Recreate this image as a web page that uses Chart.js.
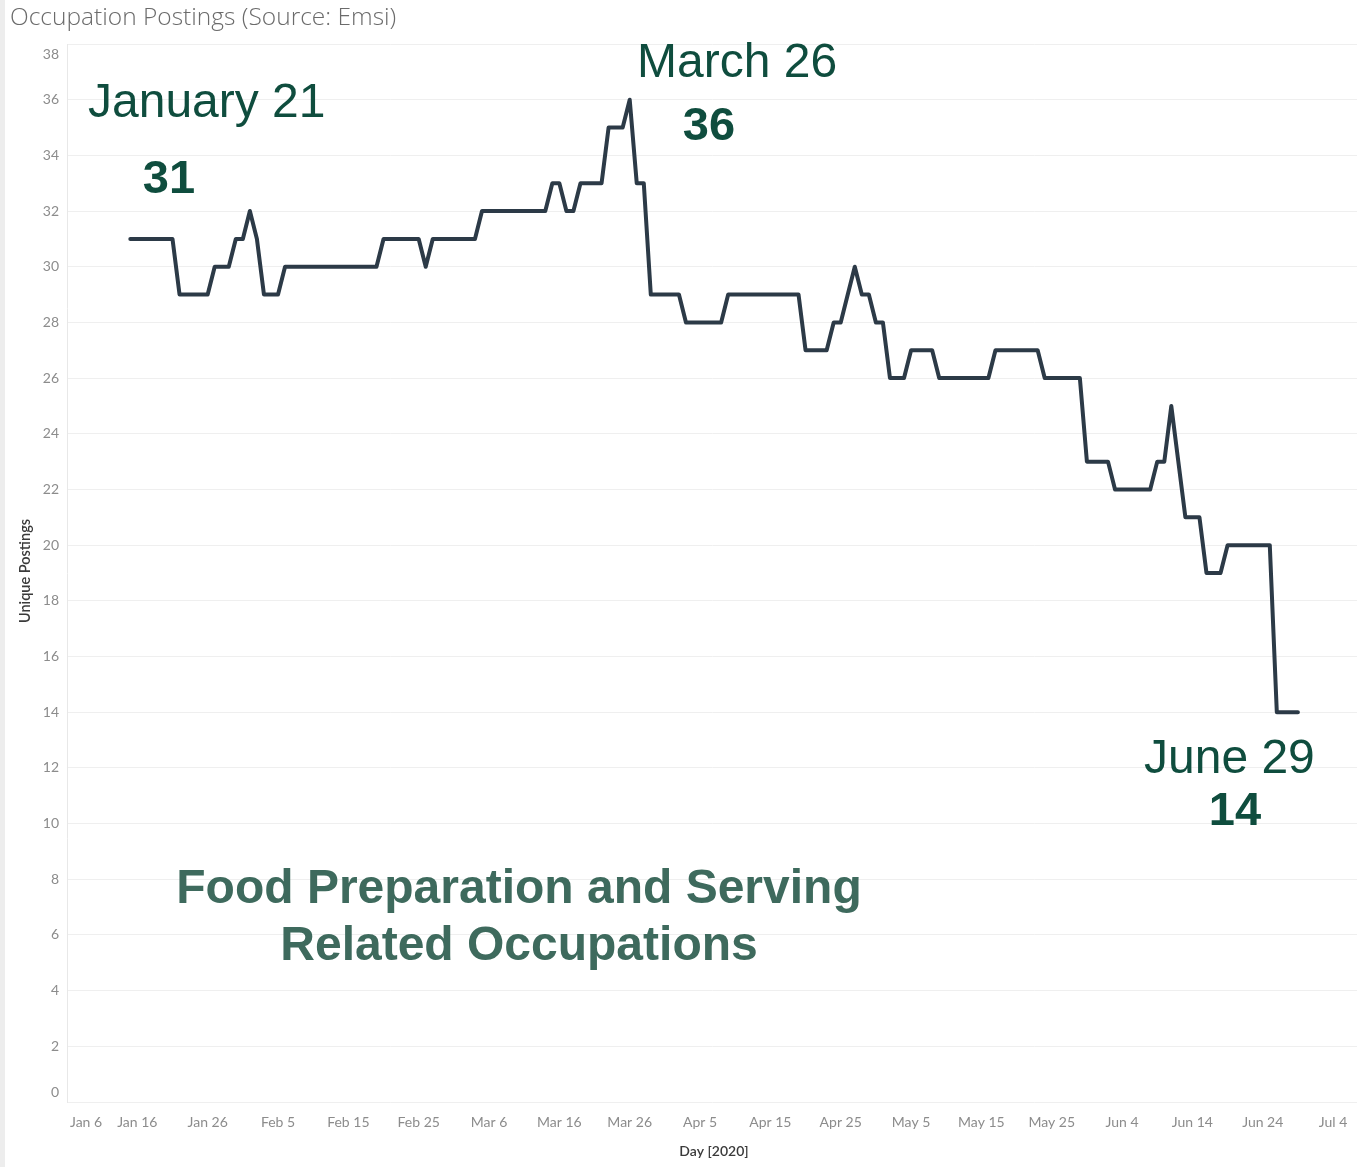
<!DOCTYPE html>
<html>
<head>
<meta charset="utf-8">
<script src="https://cdn.jsdelivr.net/npm/chart.js@4.4.0/dist/chart.umd.min.js"></script>
<style>
  html, body { margin: 0; padding: 0; background: #fff; }
  #wrap { position: relative; width: 1357px; height: 1167px; }
  #strip { position: absolute; left: 0; top: 0; width: 5px; height: 1167px; background: #ededed; }
  canvas { position: absolute; left: 0; top: 0; }
</style>
</head>
<body>
<div id="wrap">
  <canvas id="postingsChart" width="1357" height="1167"></canvas>
  <div id="strip"></div>
</div>
<script>
// Day offsets are counted from Jan 6, 2020 (day 0); the series starts Jan 15
const firstDay = 9;
const postings = [
    31, 31, 31, 31, 31, 31, 31,             // Jan 15 - Jan 21
    29, 29, 29, 29, 29,
    30, 30, 30,
    31, 31, 32, 31,
    29, 29, 29,
    30, 30, 30, 30, 30, 30, 30, 30, 30, 30, 30, 30, 30, 30,
    31, 31, 31, 31, 31, 31,
    30,
    31, 31, 31, 31, 31, 31, 31,
    32, 32, 32, 32, 32, 32, 32, 32, 32, 32,
    33, 33, 32, 32,
    33, 33, 33, 33,
    35, 35, 35,
    36,                                     // Mar 26
    33, 33,
    29, 29, 29, 29, 29,
    28, 28, 28, 28, 28, 28,
    29, 29, 29, 29, 29, 29, 29, 29, 29, 29, 29,
    27, 27, 27, 27,
    28, 28, 29, 30, 29, 29, 28, 28,
    26, 26, 26,
    27, 27, 27, 27,
    26, 26, 26, 26, 26, 26, 26, 26,
    27, 27, 27, 27, 27, 27, 27,
    26, 26, 26, 26, 26, 26,
    23, 23, 23, 23,
    22, 22, 22, 22, 22, 22,
    23, 23, 25, 23,
    21, 21, 21,
    19, 19, 19,
    20, 20, 20, 20, 20, 20, 20,
    14, 14, 14, 14                          // ... Jun 29
];
const xTickLabels = ['Jan 6', 'Jan 16', 'Jan 26', 'Feb 5', 'Feb 15', 'Feb 25', 'Mar 6', 'Mar 16', 'Mar 26',
    'Apr 5', 'Apr 15', 'Apr 25', 'May 5', 'May 15', 'May 25', 'Jun 4', 'Jun 14', 'Jun 24', 'Jul 4'];
const yTickValues = [0, 2, 4, 6, 8, 10, 12, 14, 16, 18, 20, 22, 24, 26, 28, 30, 32, 34, 36, 38];

const points = postings.map((v, i) => ({ x: firstDay + i, y: v }));

// Tableau-like axis labels, kept inside the axis span
const axisLabels = {
    id: 'axisLabels',
    afterDraw(chart) {
        const { ctx, chartArea, scales } = chart;
        ctx.save();

        ctx.font = '14px Lato';
        ctx.fillStyle = '#8c8c8c';
        ctx.textAlign = 'right';
        ctx.textBaseline = 'middle';
        yTickValues.forEach(v => {
            let y = scales.y.getPixelForValue(v);
            y = Math.min(Math.max(y, chartArea.top + 10), chartArea.bottom - 10);
            ctx.fillText(String(v), 59, y);
        });

        ctx.textAlign = 'center';
        xTickLabels.forEach((label, i) => {
            const w = ctx.measureText(label).width;
            let x = scales.x.getPixelForValue(i * 10);
            x = Math.min(Math.max(x, chartArea.left + w / 2 + 3), chartArea.right - w / 2 - 3);
            ctx.fillText(label, x, 1122);
        });

        ctx.fillStyle = '#3a3a3a';
        ctx.font = '600 14px Lato';
        ctx.fillText('Day [2020]', 714, 1151);

        ctx.save();
        ctx.translate(25, 571);
        ctx.rotate(-Math.PI / 2);
        ctx.font = '600 14.5px Lato';
        ctx.fillText('Unique Postings', 0, 0);
        ctx.restore();

        ctx.textAlign = 'left';
        ctx.fillStyle = '#6b6b6b';
        ctx.font = '300 24.5px "Open Sans"';
        ctx.fillText('Occupation Postings (Source: Emsi)', 10, 18);

        // annotations
        ctx.textBaseline = 'alphabetic';
        ctx.fillStyle = '#0f4d3e';
        ctx.font = '48px "Liberation Sans"';
        ctx.fillText('January 21', 88, 117);
        ctx.fillText('March 26', 637, 77);
        ctx.fillText('June 29', 1144, 773);

        ctx.textAlign = 'center';
        ctx.font = 'bold 47px "Liberation Sans"';
        ctx.fillText('31', 169, 193);
        ctx.fillText('36', 709, 140);
        ctx.fillText('14', 1235, 825);

        ctx.fillStyle = '#3e6a5d';
        ctx.font = 'bold 48px "Liberation Sans"';
        ctx.fillText('Food Preparation and Serving', 519, 903);
        ctx.fillText('Related Occupations', 519, 960);

        ctx.restore();
    }
};

new Chart(document.getElementById('postingsChart'), {
    type: 'line',
    data: {
        datasets: [{
            data: points,
            borderColor: '#2c3a47',
            borderWidth: 4,
            pointRadius: 0,
            tension: 0,
            borderJoinStyle: 'round',
            borderCapStyle: 'round'
        }]
    },
    options: {
        responsive: false,
        animation: false,
        layout: { padding: { left: 67, top: 44, right: 0, bottom: 65 } },
        plugins: { legend: { display: false }, tooltip: { enabled: false } },
        scales: {
            x: {
                type: 'linear',
                min: 0,
                max: 183.4,
                grid: { display: false, drawTicks: false },
                border: { display: false },
                ticks: { display: false }
            },
            y: {
                min: 0,
                max: 38,
                grid: { color: '#efefef', lineWidth: 1, drawTicks: false },
                border: { display: true, color: '#e8e8e8' },
                ticks: { display: false, stepSize: 2 }
            }
        }
    },
    plugins: [axisLabels]
});
</script>
</body>
</html>
